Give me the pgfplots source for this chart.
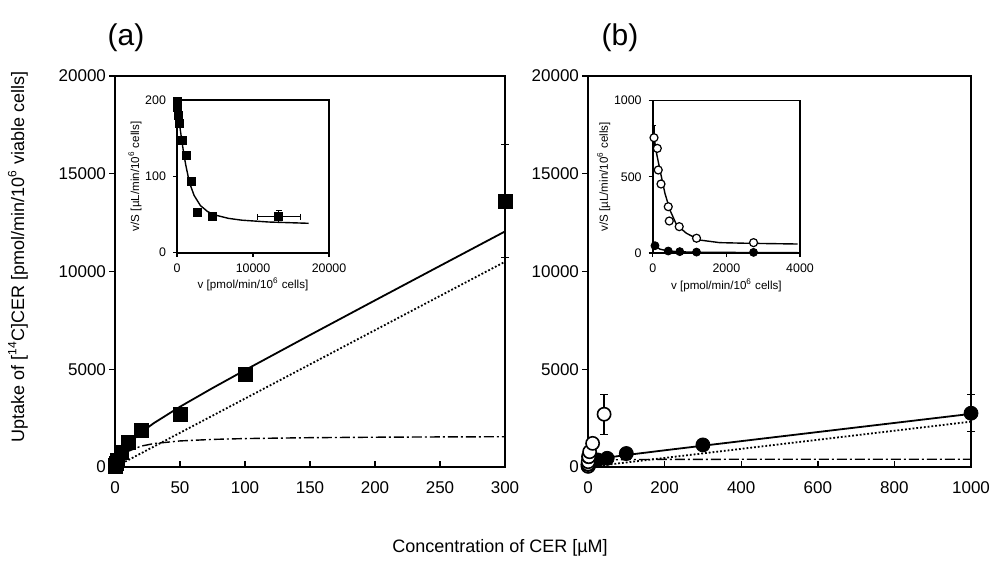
\documentclass[border=0pt]{standalone}
\usepackage{pgfplots}
\pgfplotsset{compat=1.18}
\usepackage{fontspec}
\setmainfont{Liberation Sans}
\begin{document}
\begin{tikzpicture}
\path[use as bounding box] (0,0) rectangle (500pt,287pt);
\pgfplotsset{
  mainax/.style={
    scale only axis, anchor=south west, scaled ticks=false,
    height=195.5pt, ymin=0, ymax=20000,
    ytick={0,5000,10000,15000,20000},
    axis line style={line width=0.9pt},
    xtick align=inside, ytick align=outside,
    xtick pos=left, ytick pos=left,
    major tick length=3pt,
    tick style={line width=0.7pt, black},
    /pgf/number format/assume math mode=true,
    /pgf/number format/1000 sep={},
    tick label style={font=\fontsize{8.5}{10}\selectfont},
    xticklabel style={yshift=-4pt},
    yticklabel style={xshift=2pt},
    clip=false,
  },
  inset/.style={
    scale only axis, anchor=south west, scaled ticks=false,
    axis background/.style={fill=white},
    axis line style={line width=0.8pt},
    tick align=outside, xtick pos=left, ytick pos=left,
    major tick length=2pt,
    tick style={line width=0.6pt, black},
    /pgf/number format/assume math mode=true,
    /pgf/number format/1000 sep={},
    tick label style={font=\fontsize{6.2}{7}\selectfont},
    label style={font=\fontsize{5.8}{7}\selectfont},
    xlabel style={yshift=4pt},
    ylabel style={yshift=-5pt},
    clip=false,
  },
}
% ---------------- panel (a) ----------------
\begin{axis}[mainax, at={(57.5pt,53.5pt)}, width=195pt,
  xmin=0, xmax=300, xtick={0,50,100,150,200,250,300}]
\addplot[black, line width=0.9pt] coordinates {
(0,0) (1,180.5) (2,336.7) (5,708.3) (10,1150) (20,1766.7) (30,2250) (50,3083.3)
(75,4036.8) (100,4954.5) (150,6750) (200,8523.8) (250,10288.5) (300,12048.4)};
\addplot[black, line width=0.9pt, densely dotted] coordinates {(0,0) (300,10500)};
\addplot[black, line width=0.7pt, dash pattern=on 5pt off 1.5pt on 1pt off 1.5pt] coordinates {
(0,0) (1,145.5) (2,266.7) (5,533.3) (10,800) (20,1066.7) (30,1200) (50,1333.3)
(75,1411.8) (100,1454.5) (150,1500) (200,1523.8) (250,1538.5) (300,1548.4)};
\addplot[black, only marks, mark=square*, mark size=3.5pt,
  error bars/.cd, y dir=both, y explicit,
  error bar style={line width=0.6pt},
  error mark options={rotate=90, mark size=2pt, line width=0.6pt}] coordinates {
(0.1,20) (0.5,95) (1,180) (2,340) (5,735) (10,1270) (20,1880) (50,2670) (100,4720)
(300,13600) +- (0,2900)};
\end{axis}
% inset (a)
\begin{axis}[inset, at={(88.5pt,160.65pt)}, width=76pt, height=76.35pt,
  xmin=0, xmax=20000, ymin=0, ymax=200,
  xtick={0,10000,20000}, ytick={0,100,200},
  xlabel={v [pmol/min/10\textsuperscript{6} cells]},
  ylabel={v/S [µL/min/10\textsuperscript{6} cells]}]
\addplot[black, line width=0.7pt] coordinates {
(0,195) (93.7,187.4) (180.5,180.5) (336.7,168.3) (474.2,158.1) (708.3,141.7)
(903.8,129.1) (1150,115) (1485,99) (1766.7,88.3) (2250,75) (3083.3,61.7)
(4036.8,53.8) (4954.5,49.5) (6750,45) (8523.8,42.6) (12048.4,40.2) (17315.2,38.5)};
\addplot[black, only marks, mark=square*, mark size=2pt,
  error bars/.cd, x dir=both, x explicit, y dir=both, y explicit,
  error bar style={line width=0.5pt},
  error mark options={rotate=90, mark size=1.5pt, line width=0.5pt}] coordinates {
(20,198) (95,190) (180,180) (340,170) (735,147) (1270,127) (1880,94) (2670,53)
(4720,47) (13400,47) +- (2850,8)};
\end{axis}
% ---------------- panel (b) ----------------
\begin{axis}[mainax, at={(294pt,53.5pt)}, width=191.5pt,
  xmin=0, xmax=1000, xtick={0,200,400,600,800,1000}]
\addplot[black, line width=0.9pt] coordinates {
(0,0) (2,118.9) (5,211.6) (10,289.9) (20,366.4) (50,479.6) (100,613) (200,854.2)
(300,1089.4) (500,1556) (700,2021.2) (1000,2718)};
\addplot[black, line width=0.9pt, densely dotted] coordinates {(0,0) (1000,2320)};
\addplot[black, line width=0.7pt, dash pattern=on 5pt off 1.5pt on 1pt off 1.5pt] coordinates {
(0,0) (2,114.3) (5,200) (10,266.7) (20,320) (50,363.6) (100,381) (200,390.2)
(300,393.4) (500,396) (700,397.2) (1000,398)};
\addplot[black, only marks, mark=*, mark size=3.5pt,
  error bars/.cd, y dir=both, y explicit,
  error bar style={line width=0.6pt},
  error mark options={rotate=90, mark size=2pt, line width=0.6pt}] coordinates {
(1,48) (10,270) (25,360) (50,445) (100,690) (300,1130) (1000,2750) +- (0,950)};
\addplot[black, only marks, mark=*, mark options={fill=white, line width=0.8pt}, mark size=3.3pt,
  error bars/.cd, y dir=both, y explicit,
  error bar style={line width=0.6pt},
  error mark options={rotate=90, mark size=2pt, line width=0.6pt}] coordinates {
(0.05,35) (0.2,125) (0.3,150) (0.5,270) (1.4,530) (2.1,530) (4.2,780) (12,1210)
(42,2700) +- (0,1020)};
\end{axis}
% inset (b)
\begin{axis}[inset, at={(326.35pt,160.5pt)}, width=73.65pt, height=76.15pt,
  xmin=0, xmax=4000, ymin=0, ymax=1000,
  xtick={0,2000,4000}, ytick={0,500,1000},
  xlabel={v [pmol/min/10\textsuperscript{6} cells]},
  ylabel={v/S [µL/min/10\textsuperscript{6} cells]}]
\addplot[black, line width=0.7pt] coordinates {
(20,790) (35,764) (100,660) (197,545) (332,392) (468,282) (649,184) (919,129)
(1278,85) (1819,68) (2540,64) (3935,59)};
\addplot[black, line width=0.7pt] coordinates {
(20,50) (62,45) (200,25) (422,13) (735,8) (1190,5) (2738,3) (3935,3)};
\addplot[black, only marks, mark=*, mark options={fill=white, line width=0.6pt}, mark size=2pt,
  error bars/.cd, y dir=both, y explicit,
  error bar style={line width=0.5pt},
  error mark options={rotate=90, mark size=1.2pt, line width=0.5pt}] coordinates {
(35,757) +- (0,80) (125,687) (150,545) (225,453) (422,304) (450,210) (720,173) (1190,97) (2738,68)};
\addplot[black, only marks, mark=*, mark size=2pt] coordinates {
(62,48) (422,13) (735,9) (1190,6) (2738,4)};
\end{axis}
% titles and shared labels
\node[font=\fontsize{15}{18}\selectfont] at (63pt,268pt) {(a)};
\node[font=\fontsize{15}{18}\selectfont] at (310pt,268pt) {(b)};
\node[font=\fontsize{9}{11}\selectfont] at (250pt,13pt) {Concentration of CER [µM]};
\node[font=\fontsize{9}{11}\selectfont, rotate=90] at (9pt,158.5pt)
  {Uptake of [\textsuperscript{14}C]CER [pmol/min/10\textsuperscript{6} viable cells]};
\end{tikzpicture}
\end{document}
